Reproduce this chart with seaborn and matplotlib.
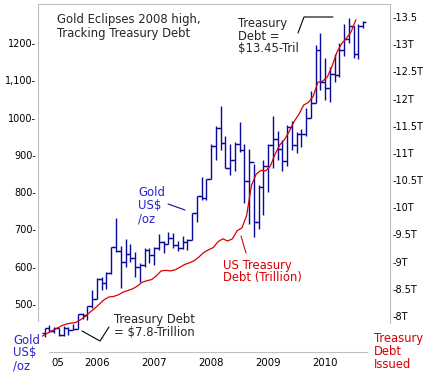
import numpy as np
import pandas as pd
import matplotlib
matplotlib.use("Agg")
import matplotlib.pyplot as plt
from matplotlib.lines import Line2D
import seaborn as sns

# --- data ---
# monthly gold bars (US$/oz), Feb 2005 .. Sep 2010
gold_start = (2005, 2)
gold_open = [422, 435, 428, 436, 417, 435, 430, 433, 473, 470, 495,
             513, 568, 556, 582, 654, 643, 613, 633, 623, 599, 604, 646,
             632, 650, 665, 662, 677, 659, 650, 665, 672, 743, 789, 783,
             834, 923, 971, 933, 865, 885, 930, 912, 830, 880, 720, 815,
             870, 927, 942, 917, 883, 975, 927, 955, 955, 1000, 1040, 1180,
             1095, 1080, 1118, 1113, 1180, 1210, 1245, 1170, 1246]
gold_high = [437, 445, 438, 437, 440, 438, 447, 474, 477, 496, 537,
             570, 572, 585, 654, 730, 655, 675, 660, 640, 610, 650, 650,
             652, 688, 670, 692, 690, 670, 682, 675, 745, 790, 841, 834,
             930, 978, 1030, 950, 930, 935, 988, 930, 915, 875, 820, 885,
             930, 1005, 965, 939, 980, 990, 960, 970, 1025, 1070, 1195, 1226,
             1160, 1135, 1170, 1199, 1250, 1268, 1245, 1250, 1260]
gold_low = [411, 425, 421, 414, 414, 418, 430, 433, 460, 456, 490,
            513, 538, 540, 580, 640, 543, 600, 612, 573, 560, 600, 610,
            605, 645, 636, 660, 650, 642, 648, 645, 672, 720, 778, 780,
            835, 885, 912, 864, 845, 858, 907, 770, 715, 680, 700, 740,
            800, 864, 885, 858, 870, 912, 904, 920, 950, 1000, 1040, 1075,
            1046, 1041, 1095, 1110, 1165, 1199, 1159, 1158, 1240]
gold_close = [435, 428, 436, 417, 435, 430, 433, 473, 470, 495, 513,
              568, 556, 582, 654, 643, 613, 633, 623, 599, 604, 646, 632,
              650, 665, 662, 677, 659, 650, 665, 672, 743, 789, 783, 834,
              923, 971, 933, 865, 885, 930, 912, 830, 880, 720, 815, 870,
              927, 942, 917, 883, 975, 927, 955, 955, 1000, 1040, 1180, 1095,
              1080, 1118, 1113, 1180, 1210, 1245, 1170, 1246, 1256]

# monthly treasury debt (trillion US$), Jan 2005 .. Jul 2010
debt_start = (2005, 1)
debt_values = [7.63, 7.68, 7.73, 7.77, 7.82, 7.85, 7.87, 7.88, 7.93, 7.99, 8.07, 8.14,
               8.22, 8.30, 8.35, 8.36, 8.39, 8.44, 8.47, 8.50, 8.55, 8.62, 8.65, 8.67,
               8.74, 8.83, 8.84, 8.83, 8.85, 8.90, 8.95, 8.98, 9.02, 9.09, 9.17, 9.22,
               9.26, 9.37, 9.42, 9.38, 9.42, 9.57, 9.62, 9.85, 10.40, 10.61, 10.68, 10.67,
               10.76, 10.98, 11.15, 11.25, 11.40, 11.58, 11.71, 11.88, 11.93, 12.04, 12.30, 12.32,
               12.40, 12.60, 12.85, 13.01, 13.11, 13.23, 13.45]

gold_ticks = [500, 600, 700, 800, 900, 1000, 1100, 1200]
gold_tick_labels = ["500", "600", "700", "800", "900", "1000", "1,100", "1200"]
debt_ticks = [8, 8.5, 9, 9.5, 10, 10.5, 11, 11.5, 12, 12.5, 13, 13.5]
debt_tick_labels = ["8T", "8.5T", "9T", "9.5T", "10T", "10.5T", "11T", "11.5T",
                    "12T", "12.5T", "13T", "13.5"]
year_ticks = [2005.32, 2006, 2007, 2008, 2009, 2010]
year_labels = ["05", "2006", "2007", "2008", "2009", "2010"]


def month_years(start, n, offset=0.0):
    y, m = start
    return np.array([y + (m - 1 + i + offset) / 12 for i in range(n)])


gold_x = month_years(gold_start, len(gold_close))
debt_df = pd.DataFrame({"year": month_years(debt_start, len(debt_values), 0.5),
                        "debt": debt_values})

BLUE = "#0a0a9a"
TXT_BLUE = "#2626cc"
RED = "#d80000"
GREY = "#c0c0c0"

sns.set_style("white")
plt.rcParams["font.family"] = ["DejaVu Sans"]

W, H = 428, 376
fig = plt.figure(figsize=(W / 100, H / 100), dpi=100)


def px(x, y):
    return x / W, 1 - y / H


ax_top, ax_bot = 4, 341.3
ax = fig.add_axes([38 / W, 1 - ax_bot / H, 352 / W, (ax_bot - ax_top) / H])
ax2 = ax.twinx()

# gold OHLC bars
w = 0.05
ax.vlines(gold_x, gold_low, gold_high, color=BLUE, lw=1.0)
ax.hlines(gold_open, gold_x - w, gold_x, color=BLUE, lw=1.0)
ax.hlines(gold_close, gold_x, gold_x + w, color=BLUE, lw=1.0)

# treasury debt line
sns.lineplot(data=debt_df, x="year", y="debt", ax=ax2, color=RED, lw=0.9)

ax.set_xlim(2004.965, 2011.14)
ax.set_ylim(400, 1304.6)
ax2.set_ylim(7.535, 13.74)

ax.set_yticks(gold_ticks)
ax.set_yticklabels([f"{t}-" for t in gold_tick_labels])
ax2.set_yticks(debt_ticks)
ax2.set_yticklabels([f"-{t}" for t in debt_tick_labels])
ax.set_xticks(year_ticks)
ax.set_xticklabels(year_labels)
ax.xaxis.get_major_ticks()[0].tick1line.set_visible(False)

ax.tick_params(axis="y", length=0, pad=1.5, labelsize=7, labelcolor="black")
ax2.tick_params(axis="y", length=0, pad=1.5, labelsize=7, labelcolor="black")
ax.tick_params(axis="x", length=2.2, width=0.8, color="#666666", pad=2,
               labelsize=7.3, labelcolor="black")
ax.set_xlabel("")
ax.set_ylabel("")
ax2.set_xlabel("")
ax2.set_ylabel("")

for s in ax.spines.values():
    s.set_color(GREY)
    s.set_linewidth(0.8)
for s in ax2.spines.values():
    s.set_visible(False)
ax.spines["right"].set_visible(False)
ax.spines["left"].set_bounds(454.4, 1304.6)
ax.spines["bottom"].set_position(("outward", 7.7))
ax.spines["bottom"].set_bounds(2005.16, 2010.74)
ax2.spines["right"].set_visible(True)
ax2.spines["right"].set_color(GREY)
ax2.spines["right"].set_linewidth(0.8)
ax2.spines["right"].set_bounds(7.871, 13.74)
ax.set_facecolor("none")
ax2.set_facecolor("none")

# --- annotations ---
fs = 8.35
ls = 1.0
fig.text(*px(57, 13.5), "Gold Eclipses 2008 high,\nTracking Treasury Debt",
         fontsize=fs, va="top", ha="left", linespacing=ls)
fig.text(*px(238, 16.5), "Treasury\nDebt =\n$13.45-Tril",
         fontsize=fs, va="top", ha="left", linespacing=ls)
fig.text(*px(138, 186), "Gold\nUS$\n/oz", color=TXT_BLUE,
         fontsize=fs, va="top", ha="left", linespacing=ls)
fig.text(*px(223, 258.5), "US Treasury\nDebt (Trillion)", color=RED,
         fontsize=fs, va="top", ha="left", linespacing=ls)
fig.text(*px(114, 313), "Treasury Debt\n= $7.8-Trillion",
         fontsize=fs, va="top", ha="left", linespacing=ls)
fig.text(*px(13, 333.5), "Gold\nUS$\n/oz", color=TXT_BLUE,
         fontsize=fs, va="top", ha="left", linespacing=ls)
fig.text(*px(374, 332), "Treasury\nDebt\nIssued", color=RED,
         fontsize=fs, va="top", ha="left", linespacing=ls)


def leader(xs, ys, color):
    pts = [px(x, y) for x, y in zip(xs, ys)]
    fig.add_artist(Line2D([p[0] for p in pts], [p[1] for p in pts],
                          color=color, lw=0.8, transform=fig.transFigure))


leader([298, 304, 333], [33, 17, 17], "black")
leader([168, 185], [204, 210], BLUE)
leader([241, 246], [236, 253], RED)
leader([82, 100, 109], [331, 341, 327], "black")

fig.savefig("out.png", dpi=100)
